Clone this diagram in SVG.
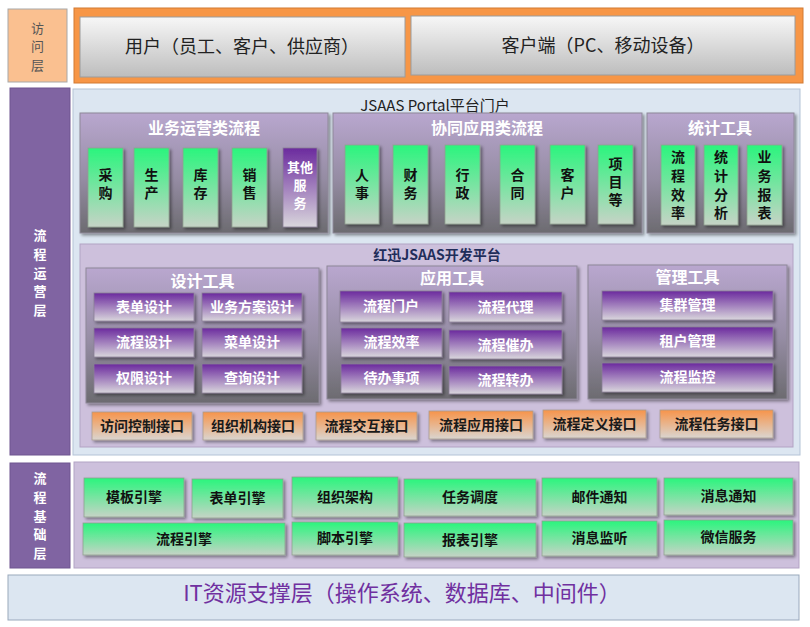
<svg xmlns="http://www.w3.org/2000/svg" width="810" height="627" viewBox="0 0 810 627">
<defs>
<linearGradient id="gGrey" x1="0" y1="0" x2="0" y2="1"><stop offset="0" stop-color="#F7F7F7"/><stop offset="1" stop-color="#BDBDBD"/></linearGradient>
<linearGradient id="gPanel" x1="0" y1="0" x2="0" y2="1"><stop offset="0" stop-color="#B9A7CF"/><stop offset="0.55" stop-color="#958CA3"/><stop offset="1" stop-color="#6C6B70"/></linearGradient>
<linearGradient id="gGreen" x1="0" y1="0" x2="0" y2="1"><stop offset="0" stop-color="#2AF57D"/><stop offset="1" stop-color="#C6D3C6"/></linearGradient>
<linearGradient id="gPurple" x1="0" y1="0" x2="0" y2="1"><stop offset="0" stop-color="#6B2A9E"/><stop offset="1" stop-color="#D9D6DC"/></linearGradient>
<linearGradient id="gOrange" x1="0" y1="0" x2="0" y2="1"><stop offset="0" stop-color="#F7944A"/><stop offset="1" stop-color="#DAD5D0"/></linearGradient>
<filter id="sh" x="-10%" y="-10%" width="130%" height="140%"><feDropShadow dx="2" dy="2" stdDeviation="1.5" flood-color="#000" flood-opacity="0.4"/></filter>
</defs>
<style>
text{font-family:"Noto Sans CJK SC","Liberation Sans",sans-serif;}
.grey{fill:url(#gGrey);stroke:#9C9C9C;stroke-width:1;}
.panel{fill:url(#gPanel);stroke:#8E8898;stroke-width:1;filter:url(#sh);}
.green{fill:url(#gGreen);stroke:#8FA08F;stroke-width:0.8;filter:url(#sh);}
.purple{fill:url(#gPurple);stroke:#8A7E96;stroke-width:0.8;filter:url(#sh);}
.orange{fill:url(#gOrange);stroke:#A89C90;stroke-width:0.8;filter:url(#sh);}
.side{fill:#8064A2;stroke:#6E5590;stroke-width:1;}
.sidet{fill:#FFFFFF;font-size:13px;font-weight:bold;writing-mode:vertical-rl;letter-spacing:5.8px;}
.ptitle{fill:#FFFFFF;font-size:16px;font-weight:bold;text-anchor:middle;}
.gt{fill:#111111;font-size:14px;font-weight:bold;text-anchor:middle;}
.gv{fill:#111111;font-size:14px;font-weight:bold;writing-mode:vertical-rl;letter-spacing:4px;}
.gv4{fill:#111111;font-size:14px;font-weight:bold;writing-mode:vertical-rl;letter-spacing:4.6px;}
.wt{fill:#FFFFFF;font-size:14px;font-weight:bold;text-anchor:middle;}
.ot{fill:#1A1A1A;font-size:14px;font-weight:bold;text-anchor:middle;}
.big{fill:#222222;font-size:18px;text-anchor:middle;}
</style>
<rect width="810" height="627" fill="#FFFFFF"/>

<!-- 访问层 -->
<g id="access-layer-label">
<rect x="8" y="9" width="59" height="73" fill="#FAC090" stroke="#A8A8A8"/>
<text x="37.5" y="21.5" style="fill:#555;font-size:13px;writing-mode:vertical-rl;letter-spacing:5.5px">访问层</text>
</g>
<g id="access-frame">
<rect x="74" y="8" width="729" height="75" fill="#F79646" stroke="#D27A33"/>
</g>
<g id="users">
<rect class="grey" x="80" y="17" width="325" height="60"/>
<text class="big" x="242" y="53">用户（员工、客户、供应商）</text>
</g>
<g id="clients">
<rect class="grey" x="411" y="16" width="384" height="59"/>
<text class="big" x="603" y="52">客户端（PC、移动设备）</text>
</g>

<!-- 流程运营层 -->
<g id="ops-layer-label">
<rect class="side" x="10" y="88" width="60" height="367"/>
<text class="sidet" x="40" y="228.5">流程运营层</text>
</g>
<g id="portal">
<rect x="73" y="89" width="727" height="366" fill="#DCE6F1" stroke="#B4C3D6"/>
<text x="435" y="111" style="fill:#222;font-size:15px;text-anchor:middle">JSAAS Portal平台门户</text>
</g>

<g id="biz-flows">
<rect class="panel" x="80" y="113" width="248" height="120"/>
<text class="ptitle" x="204" y="134">业务运营类流程</text>
</g>
<g id="n-caigou"><rect class="green" x="88" y="148" width="35" height="79"/><text class="gv" x="105.5" y="168">采购</text></g>
<g id="n-shengchan"><rect class="green" x="134" y="148" width="35" height="79"/><text class="gv" x="151.5" y="168">生产</text></g>
<g id="n-kucun"><rect class="green" x="183" y="148" width="35" height="79"/><text class="gv" x="200.5" y="168">库存</text></g>
<g id="n-xiaoshou"><rect class="green" x="232" y="148" width="35" height="79"/><text class="gv" x="249.5" y="168">销售</text></g>
<g id="n-other"><rect class="purple" x="283" y="148" width="34" height="79"/><text x="300" y="171.5" style="fill:#fff;font-size:13px;font-weight:bold;text-anchor:middle">其他</text><text x="300" y="178.5" style="fill:#fff;font-size:13px;font-weight:bold;writing-mode:vertical-rl;letter-spacing:5px">服务</text></g>

<g id="collab-flows">
<rect class="panel" x="333" y="113" width="309" height="120"/>
<text class="ptitle" x="487" y="134">协同应用类流程</text>
</g>
<g id="n-renshi"><rect class="green" x="345" y="145" width="34" height="79"/><text class="gv" x="362" y="168">人事</text></g>
<g id="n-caiwu"><rect class="green" x="393" y="145" width="35" height="79"/><text class="gv" x="410.5" y="168">财务</text></g>
<g id="n-xingzheng"><rect class="green" x="445" y="145" width="35" height="79"/><text class="gv" x="462.5" y="168">行政</text></g>
<g id="n-hetong"><rect class="green" x="500" y="145" width="35" height="79"/><text class="gv" x="517.5" y="168">合同</text></g>
<g id="n-kehu"><rect class="green" x="550" y="145" width="35" height="79"/><text class="gv" x="567.5" y="168">客户</text></g>
<g id="n-xiangmu"><rect class="green" x="598" y="145" width="35" height="79"/><text class="gv" x="615.5" y="157">项目等</text></g>

<g id="stat-tools">
<rect class="panel" x="647" y="113" width="147" height="120"/>
<text class="ptitle" x="720" y="134">统计工具</text>
</g>
<g id="n-liucheng-xiaolv"><rect class="green" x="661" y="145" width="34" height="80"/><text class="gv4" x="678" y="150">流程效率</text></g>
<g id="n-tongji"><rect class="green" x="704" y="145" width="34" height="80"/><text class="gv4" x="721" y="150">统计分析</text></g>
<g id="n-baobiao"><rect class="green" x="747" y="145" width="35" height="80"/><text class="gv4" x="764.5" y="150">业务报表</text></g>

<g id="dev-platform">
<rect x="80" y="244" width="713" height="203" fill="#CDC0DC" stroke="#B2A3C4"/>
<text x="437" y="260" style="fill:#1F2D5A;font-size:14px;font-weight:bold;text-anchor:middle">红迅JSAAS开发平台</text>
</g>

<g id="design-tools">
<rect class="panel" x="86" y="268" width="233" height="135"/>
<text class="ptitle" x="202.5" y="287">设计工具</text>
</g>
<g id="n-biaodan"><rect class="purple" x="94" y="293" width="100" height="28"/><text class="wt" x="144" y="312">表单设计</text></g>
<g id="n-fangan"><rect class="purple" x="202" y="293" width="100" height="28"/><text class="wt" x="252" y="312">业务方案设计</text></g>
<g id="n-lcsheji"><rect class="purple" x="94" y="328" width="100" height="29"/><text class="wt" x="144" y="347">流程设计</text></g>
<g id="n-caidan"><rect class="purple" x="202" y="328" width="100" height="29"/><text class="wt" x="252" y="347">菜单设计</text></g>
<g id="n-quanxian"><rect class="purple" x="94" y="364" width="100" height="29"/><text class="wt" x="144" y="383">权限设计</text></g>
<g id="n-chaxun"><rect class="purple" x="202" y="364" width="100" height="29"/><text class="wt" x="252" y="383">查询设计</text></g>

<g id="app-tools">
<rect class="panel" x="327" y="266" width="250" height="133"/>
<text class="ptitle" x="452" y="284">应用工具</text>
</g>
<g id="n-menhu"><rect class="purple" x="340" y="291" width="102" height="31"/><text class="wt" x="391" y="311">流程门户</text></g>
<g id="n-daili"><rect class="purple" x="449" y="292" width="113" height="30"/><text class="wt" x="505.5" y="312">流程代理</text></g>
<g id="n-xiaolv"><rect class="purple" x="341" y="328" width="101" height="29"/><text class="wt" x="391.5" y="347">流程效率</text></g>
<g id="n-cuiban"><rect class="purple" x="449" y="330" width="113" height="29"/><text class="wt" x="505.5" y="350">流程催办</text></g>
<g id="n-daiban"><rect class="purple" x="341" y="364" width="101" height="29"/><text class="wt" x="391.5" y="383">待办事项</text></g>
<g id="n-zhuanban"><rect class="purple" x="449" y="366" width="113" height="28"/><text class="wt" x="505.5" y="385">流程转办</text></g>

<g id="mgmt-tools">
<rect class="panel" x="588" y="265" width="199" height="134"/>
<text class="ptitle" x="687.5" y="283">管理工具</text>
</g>
<g id="n-jiqun"><rect class="purple" x="602" y="291" width="171" height="29"/><text class="wt" x="687.5" y="310">集群管理</text></g>
<g id="n-zuhu"><rect class="purple" x="602" y="327" width="171" height="30"/><text class="wt" x="687.5" y="346">租户管理</text></g>
<g id="n-jiankong"><rect class="purple" x="602" y="363" width="171" height="29"/><text class="wt" x="687.5" y="382">流程监控</text></g>

<g id="i-fangwen"><rect class="orange" x="92" y="412" width="100" height="28"/><text class="ot" x="142" y="431">访问控制接口</text></g>
<g id="i-zuzhi"><rect class="orange" x="203" y="412" width="100" height="28"/><text class="ot" x="253" y="431">组织机构接口</text></g>
<g id="i-jiaohu"><rect class="orange" x="316" y="412" width="101" height="28"/><text class="ot" x="366.5" y="431">流程交互接口</text></g>
<g id="i-yingyong"><rect class="orange" x="429" y="411" width="104" height="28"/><text class="ot" x="481" y="430">流程应用接口</text></g>
<g id="i-dingyi"><rect class="orange" x="543" y="410" width="103" height="28"/><text class="ot" x="594.5" y="429">流程定义接口</text></g>
<g id="i-renwu"><rect class="orange" x="660" y="410" width="113" height="28"/><text class="ot" x="716.5" y="429">流程任务接口</text></g>

<!-- 流程基础层 -->
<g id="base-layer-label">
<rect class="side" x="10" y="463" width="60" height="105"/>
<text class="sidet" x="40" y="471.5">流程基础层</text>
</g>
<g id="base-area">
<rect x="74" y="462" width="725" height="106" fill="#CDC0DC" stroke="#B2A3C4"/>
</g>
<g id="b-muban"><rect class="green" x="84" y="478" width="100" height="39"/><text class="gt" x="134" y="502">模板引擎</text></g>
<g id="b-biaodan"><rect class="green" x="192" y="479" width="91" height="39"/><text class="gt" x="237.5" y="503">表单引擎</text></g>
<g id="b-zuzhi"><rect class="green" x="292" y="477" width="106" height="40"/><text class="gt" x="345" y="502">组织架构</text></g>
<g id="b-renwu"><rect class="green" x="404" y="479" width="132" height="37"/><text class="gt" x="470" y="502">任务调度</text></g>
<g id="b-youjian"><rect class="green" x="542" y="478" width="115" height="38"/><text class="gt" x="599.5" y="502">邮件通知</text></g>
<g id="b-xiaoxi"><rect class="green" x="664" y="478" width="129" height="37"/><text class="gt" x="728.5" y="501">消息通知</text></g>
<g id="b-liucheng"><rect class="green" x="83" y="523" width="202" height="32"/><text class="gt" x="184" y="544">流程引擎</text></g>
<g id="b-jiaoben"><rect class="green" x="292" y="522" width="106" height="33"/><text class="gt" x="345" y="543">脚本引擎</text></g>
<g id="b-baobiao"><rect class="green" x="404" y="523" width="132" height="34"/><text class="gt" x="470" y="545">报表引擎</text></g>
<g id="b-jianting"><rect class="green" x="542" y="521" width="115" height="35"/><text class="gt" x="599.5" y="543">消息监听</text></g>
<g id="b-weixin"><rect class="green" x="664" y="520" width="129" height="35"/><text class="gt" x="728.5" y="542">微信服务</text></g>

<g id="it-layer">
<rect x="8" y="575" width="791" height="45" fill="#DCE6F1" stroke="#9AA9BC"/>
<text x="402" y="601" style="fill:#7030A0;font-size:22px;text-anchor:middle">IT资源支撑层（操作系统、数据库、中间件）</text>
</g>

<g id="connectors"/>
</svg>
